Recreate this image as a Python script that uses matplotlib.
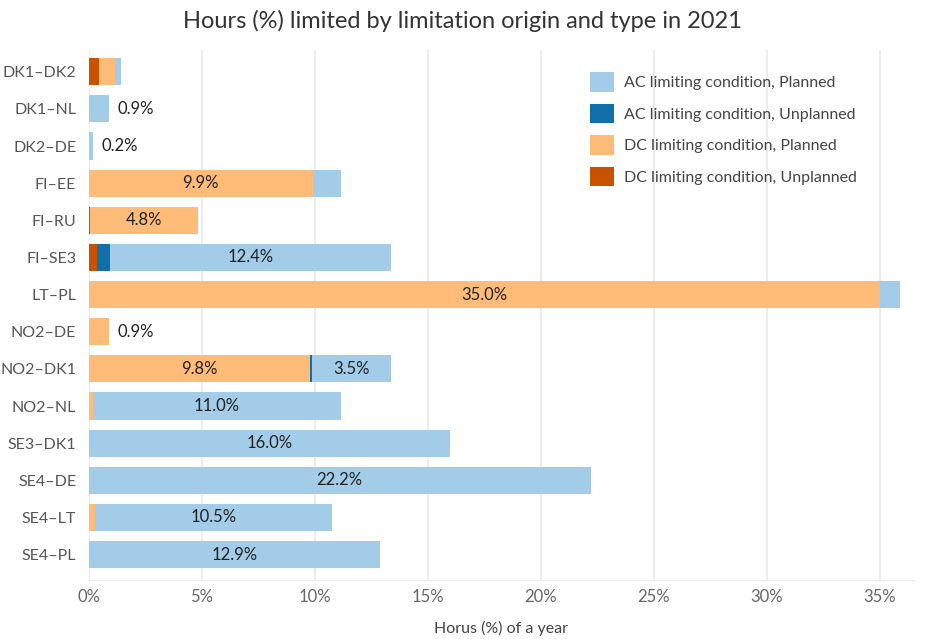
import matplotlib
matplotlib.use("Agg")
import matplotlib.pyplot as plt
import numpy as np

plt.rcParams["font.family"] = ["Lato", "DejaVu Sans"]

borders = ["DK1–DK2", "DK1–NL", "DK2–DE", "FI–EE", "FI–RU", "FI–SE3", "LT–PL",
           "NO2–DE", "NO2–DK1", "NO2–NL", "SE3–DK1", "SE4–DE", "SE4–LT", "SE4–PL"]

# stacking order in the picture: DC unplanned, DC planned, AC unplanned, AC planned
dc_unplanned = [0.47, 0.0, 0.0, 0.0, 0.05, 0.38, 0.0, 0.0, 0.0, 0.0, 0.0, 0.0, 0.0, 0.0]
dc_planned = [0.67, 0.0, 0.0, 9.9, 4.8, 0.0, 35.0, 0.9, 9.8, 0.17, 0.0, 0.0, 0.27, 0.0]
ac_unplanned = [0.0, 0.0, 0.0, 0.0, 0.0, 0.57, 0.0, 0.0, 0.08, 0.0, 0.0, 0.0, 0.0, 0.0]
ac_planned = [0.3, 0.9, 0.2, 1.25, 0.0, 12.4, 0.9, 0.0, 3.5, 11.0, 16.0, 22.2, 10.5, 12.9]

series = [
    ("AC limiting condition, Planned", ac_planned, "#a3cce9"),
    ("AC limiting condition, Unplanned", ac_unplanned, "#1170aa"),
    ("DC limiting condition, Planned", dc_planned, "#ffbc79"),
    ("DC limiting condition, Unplanned", dc_unplanned, "#c85200"),
]
stack_order = [3, 2, 1, 0]

fig = plt.figure(figsize=(9.25, 6.39), dpi=100)
ax = fig.add_axes([0.096, 0.092, 0.892, 0.83])

y = np.arange(len(borders))
left = np.zeros(len(borders))
handles = {}
for idx in stack_order:
    name, vals, color = series[idx]
    vals = np.array(vals)
    h = ax.barh(y, vals, left=left, height=0.73, color=color, label=name, zorder=2)
    handles[idx] = h
    for i, v in enumerate(vals):
        if v >= 3:
            ax.text(left[i] + v / 2, y[i], f"{v:.1f}%", ha="center", va="center",
                    fontsize=12, color="#222222", zorder=3)
    left += vals

# small single-segment bars get their label outside
for i in range(len(borders)):
    parts = [dc_unplanned[i], dc_planned[i], ac_unplanned[i], ac_planned[i]]
    if sum(1 for p in parts if p > 0) == 1 and left[i] < 3:
        ax.text(left[i] + 0.35, y[i], f"{left[i]:.1f}%", ha="left", va="center",
                fontsize=12, color="#222222")

ax.set_xlim(0, 36.5)
ax.set_ylim(13.69, -0.59)
ax.set_yticks(y)
ax.set_yticklabels(borders, fontsize=11.5, color="#555555")
ax.set_xticks(np.arange(0, 36, 5))
ax.set_xticklabels([f"{t}%" for t in range(0, 36, 5)], fontsize=12, color="#666666")
ax.tick_params(axis="y", length=0, pad=9)
ax.tick_params(axis="x", length=0, pad=6)
ax.grid(axis="x", color="#ececec", linewidth=1.5, zorder=0)
for s in ["top", "right", "left"]:
    ax.spines[s].set_visible(False)
ax.spines["bottom"].set_color("#ececec")
ax.set_xlabel("Horus (%) of a year", fontsize=11.5, color="#444444", labelpad=12)

fig.suptitle("Hours (%) limited by limitation origin and type in 2021",
             fontsize=17, color="#333333", y=0.985)

ax.legend([handles[i] for i in range(4)], [series[i][0] for i in range(4)],
          loc="upper right", bbox_to_anchor=(0.948, 0.985), frameon=False,
          fontsize=11.5, labelcolor="#444444", handlelength=1.5, handleheight=1.5,
          labelspacing=0.75, handletextpad=0.6)

fig.savefig("out.png", dpi=100)
